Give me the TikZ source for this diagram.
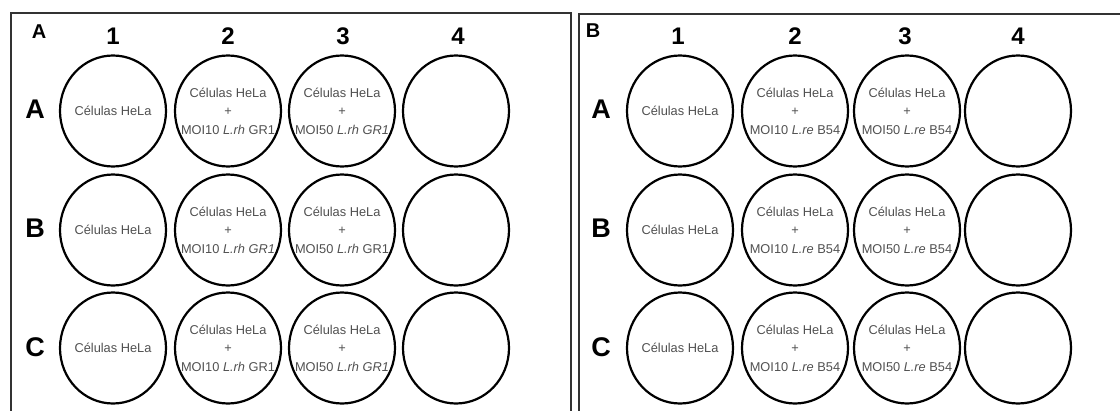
\documentclass[tikz,border=0pt]{standalone}
\usepackage{fontspec}
\setmainfont{Liberation Sans}
\usetikzlibrary{shapes.geometric}
\definecolor{welltext}{HTML}{505050}
\definecolor{framecol}{HTML}{333333}
\begin{document}
\begin{tikzpicture}[x=1pt,y=-1pt,
  well/.style={draw=black, line width=2.2pt, ellipse, minimum width=106pt, minimum height=111pt, inner sep=0pt},
  welltxt/.style={align=center, text=welltext, inner sep=0pt, font=\fontsize{12.8}{18.5}\selectfont},
  collabel/.style={font=\fontsize{24}{24}\selectfont\bfseries, text=black, inner sep=0pt},
  rowlabel/.style={font=\fontsize{27}{27}\selectfont\bfseries, text=black, inner sep=0pt},
  panellabel/.style={font=\fontsize{20}{20}\selectfont\bfseries, text=black, inner sep=0pt},
  frame/.style={draw=framecol, line width=2.4pt}]
\useasboundingbox (0,0) rectangle (1120,410);
\clip (0,0) rectangle (1120,410);
% frames
\coordinate (fl1) at (11,420); \coordinate (fl2) at (11,13);
\coordinate (fl3) at (571,13); \coordinate (fl4) at (571,420);
\draw[frame] (fl1) -- (fl2) -- (fl3) -- (fl4);
\coordinate (fr1) at (579,420); \coordinate (fr2) at (579,14);
\coordinate (fr3) at (1130,14);
\draw[frame] (fr1) -- (fr2) -- (fr3);
% panel labels
\node[panellabel] (pA) at (39,32) {A};
\node[panellabel] (pB) at (593,31) {B};
% left panel column labels
\node[collabel] (L1) at (113,36) {1};
\node[collabel] (L2) at (228,36) {2};
\node[collabel] (L3) at (343,36) {3};
\node[collabel] (L4) at (458,36) {4};
% right panel column labels
\node[collabel] (R1) at (678,36) {1};
\node[collabel] (R2) at (795,36) {2};
\node[collabel] (R3) at (905,36) {3};
\node[collabel] (R4) at (1018,36) {4};
% row labels
\node[rowlabel] (LA) at (35,109) {A};
\node[rowlabel] (LB) at (35,228) {B};
\node[rowlabel] (LC) at (35,347) {C};
\node[rowlabel] (RA) at (601,109) {A};
\node[rowlabel] (RB) at (601,228) {B};
\node[rowlabel] (RC) at (601,347) {C};
% left wells
\node[well] (lA1) at (113,111) {};
\node[well] (lA2) at (228,111) {};
\node[well] (lA3) at (342,111) {};
\node[well] (lA4) at (456,111) {};
\node[well] (lB1) at (113,230) {};
\node[well] (lB2) at (228,230) {};
\node[well] (lB3) at (342,230) {};
\node[well] (lB4) at (456,230) {};
\node[well] (lC1) at (113,348) {};
\node[well] (lC2) at (228,348) {};
\node[well] (lC3) at (342,348) {};
\node[well] (lC4) at (456,348) {};
\node[welltxt] (tlA1) at (lA1) {Células HeLa};
\node[welltxt] (tlA2) at (lA2) {Células HeLa\\+\\MOI10 \textit{L.rh} GR1};
\node[welltxt] (tlA3) at (lA3) {Células HeLa\\+\\MOI50 \textit{L.rh GR1}};
\node[welltxt] (tlB1) at (lB1) {Células HeLa};
\node[welltxt] (tlB2) at (lB2) {Células HeLa\\+\\MOI10 \textit{L.rh GR1}};
\node[welltxt] (tlB3) at (lB3) {Células HeLa\\+\\MOI50 \textit{L.rh} GR1};
\node[welltxt] (tlC1) at (lC1) {Células HeLa};
\node[welltxt] (tlC2) at (lC2) {Células HeLa\\+\\MOI10 \textit{L.rh} GR1};
\node[welltxt] (tlC3) at (lC3) {Células HeLa\\+\\MOI50 \textit{L.rh GR1}};
% right wells
\node[well] (rA1) at (680,111) {};
\node[well] (rA2) at (795,111) {};
\node[well] (rA3) at (907,111) {};
\node[well] (rA4) at (1018,111) {};
\node[well] (rB1) at (680,230) {};
\node[well] (rB2) at (795,230) {};
\node[well] (rB3) at (907,230) {};
\node[well] (rB4) at (1018,230) {};
\node[well] (rC1) at (680,348) {};
\node[well] (rC2) at (795,348) {};
\node[well] (rC3) at (907,348) {};
\node[well] (rC4) at (1018,348) {};
\node[welltxt] (trA1) at (rA1) {Células HeLa};
\node[welltxt] (trA2) at (rA2) {Células HeLa\\+\\MOI10 \textit{L.re} B54};
\node[welltxt] (trA3) at (rA3) {Células HeLa\\+\\MOI50 \textit{L.re} B54};
\node[welltxt] (trB1) at (rB1) {Células HeLa};
\node[welltxt] (trB2) at (rB2) {Células HeLa\\+\\MOI10 \textit{L.re} B54};
\node[welltxt] (trB3) at (rB3) {Células HeLa\\+\\MOI50 \textit{L.re} B54};
\node[welltxt] (trC1) at (rC1) {Células HeLa};
\node[welltxt] (trC2) at (rC2) {Células HeLa\\+\\MOI10 \textit{L.re} B54};
\node[welltxt] (trC3) at (rC3) {Células HeLa\\+\\MOI50 \textit{L.re} B54};
\end{tikzpicture}
\end{document}
